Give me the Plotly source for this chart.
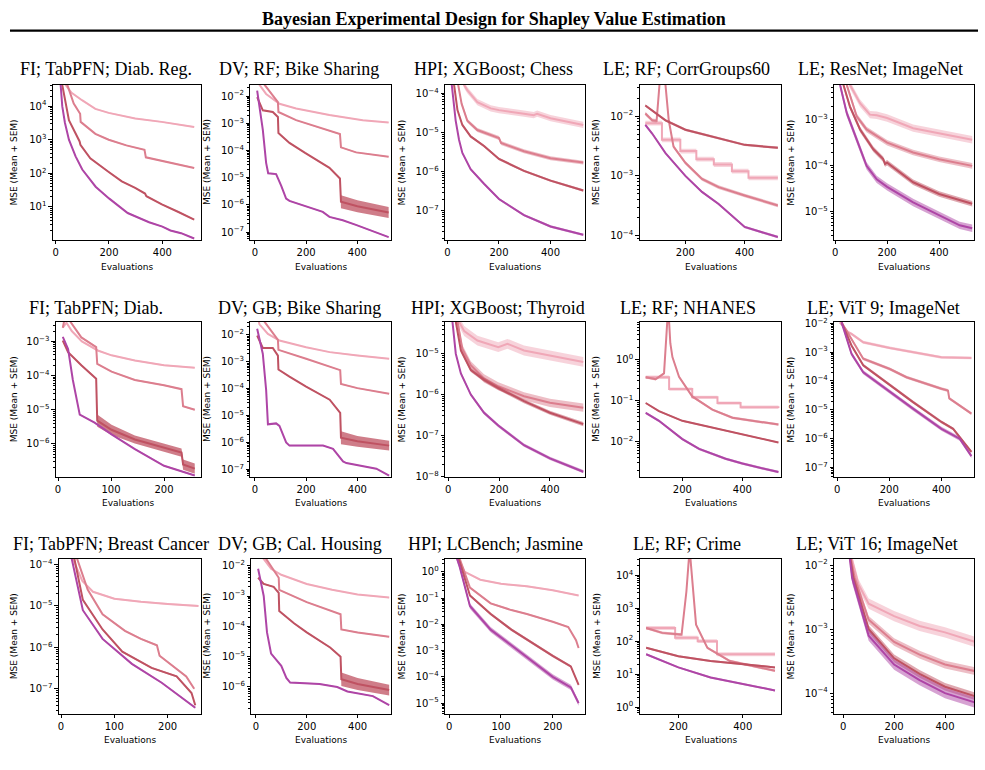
import math
import plotly.graph_objects as go

W, H = 985, 770
COLORS = ["#F0A7B7", "#DC7E8E", "#BF5262", "#AE45A6"]
BAND_RGB = ["240,167,183", "220,126,142", "191,82,98", "174,69,166"]

# ---------------- Row 1 ----------------
# FI; TabPFN; Diab. Reg.
r1c1_x0 = [15, 37, 60, 99, 149, 199, 298, 397, 519]
r1c1_y0 = [1e5, 4.3e4, 2.5e4, 1.5e4, 8.3e3, 6.3e3, 4.3e3, 3.4e3, 2.4e3]
r1c1_x1 = [15, 43, 68, 92, 94, 149, 199, 265, 333, 338, 397, 519]
r1c1_y1 = [2e5, 4.3e4, 1.2e4, 5.9e3, 3.4e3, 1.5e3, 1.0e3, 6.8e2, 5.0e2, 3.0e2, 2.4e2, 1.45e2]
r1c1_x2 = [15, 25, 50, 75, 90, 93, 130, 199, 248, 298, 335, 340, 398, 460, 519]
r1c1_y2 = [1.6e5, 4.3e4, 3.8e3, 1.6e3, 8.9e2, 7.1e2, 2.8e2, 1.1e2, 58, 37, 25, 21, 12, 7.1, 4.2]
r1c1_x3 = [15, 19, 25, 35, 50, 75, 100, 150, 200, 250, 270, 300, 350, 400, 430, 470, 519]
r1c1_y3 = [3.2e5, 4.3e4, 1.0e4, 3.2e3, 1.0e3, 3.2e2, 1.3e2, 40, 18, 8.9, 6.6, 5.2, 3.5, 2.6, 2.0, 1.66, 1.15]
r1c1_sem = [0.02, 0.02, 0.02, 0.02]

# DV; RF; Bike Sharing
r1c2_x0 = [10, 18, 44, 96, 161, 291, 421, 522]
r1c2_y0 = [5e-2, 2.6e-2, 1.2e-2, 5.2e-3, 3.5e-3, 2.0e-3, 1.3e-3, 1.07e-3]
r1c2_x1 = [10, 38, 90, 92, 161, 265, 332, 336, 395, 522]
r1c2_y1 = [6.3e-2, 2.6e-2, 6.0e-3, 2.6e-3, 1.3e-3, 6.6e-4, 4.0e-4, 1.3e-4, 8.5e-5, 5.9e-5]
r1c2_x2 = [9, 31, 70, 90, 92, 135, 196, 291, 332, 336, 400, 522]
r1c2_y2 = [9.1e-3, 3.0e-3, 2.6e-3, 1.7e-3, 4.4e-4, 1.9e-4, 8.1e-5, 2.3e-5, 9.3e-6, 1.3e-6, 8.9e-7, 5.2e-7]
r1c2_x3 = [9, 31, 44, 52, 70, 83, 103, 122, 135, 196, 265, 291, 343, 397, 522]
r1c2_y3 = [1.6e-2, 5.8e-4, 3.5e-5, 1.45e-5, 1.4e-5, 1.35e-5, 5.0e-6, 1.7e-6, 1.4e-6, 8.9e-7, 5.5e-7, 3.6e-7, 2.7e-7, 1.8e-7, 6.5e-8]
r1c2_sem2 = [0.02, 0.02, 0.02, 0.02, 0.02, 0.02, 0.02, 0.02, 0.02, 0.24, 0.22, 0.2]
r1c2_sem = [0.02, 0.02, r1c2_sem2, 0.02]

# HPI; XGBoost; Chess
r1c3_x0 = [20, 65, 77, 116, 168, 200, 297, 335, 348, 400, 527]
r1c3_y0 = [1e-3, 1.6e-4, 1.2e-4, 5.9e-5, 4.1e-5, 3.7e-5, 3.0e-5, 2.75e-5, 3.0e-5, 2.3e-5, 1.55e-5]
r1c3_x1 = [20, 43, 55, 77, 116, 200, 208, 297, 400, 527]
r1c3_y1 = [1e-3, 1.6e-4, 5.4e-5, 2.0e-5, 1.15e-5, 7.2e-6, 5.4e-6, 3.3e-6, 2.2e-6, 1.7e-6]
r1c3_x2 = [18, 26, 39, 58, 90, 142, 200, 297, 400, 527]
r1c3_y2 = [6.3e-4, 1.6e-4, 3.7e-5, 1.55e-5, 7.9e-6, 4.5e-6, 2.1e-6, 1.05e-6, 5.9e-7, 3.3e-7]
r1c3_x3 = [15, 17, 32, 45, 58, 90, 142, 200, 297, 400, 527]
r1c3_y3 = [3.2e-4, 1.6e-4, 2.0e-5, 6.5e-6, 3.0e-6, 1.15e-6, 4.9e-7, 2.0e-7, 7.8e-8, 4.0e-8, 2.45e-8]
r1c3_sem = [0.08, 0.05, 0.03, 0.03]

# LE; RF; CorrGroups60
r1c4_x0 = [65, 121, 183, 237, 296, 357, 413, 512]
r1c4_y0 = [7.6e-3, 4.0e-3, 2.6e-3, 1.9e-3, 1.55e-3, 1.2e-3, 9.3e-4, 9.3e-4]
r1c4_x1 = [65, 88, 103, 113, 122, 133, 144, 160, 200, 256, 312, 400, 512]
r1c4_y1 = [1.1e-2, 8.5e-3, 8.3e-3, 3.3e-2, 1.26e-1, 3.3e-2, 8.5e-3, 3.1e-3, 1.66e-3, 8.9e-4, 6.5e-4, 4.7e-4, 3.2e-4]
r1c4_x2 = [65, 133, 200, 312, 400, 512]
r1c4_y2 = [1.5e-2, 8.5e-3, 5.9e-3, 4.2e-3, 3.3e-3, 2.95e-3]
r1c4_x3 = [65, 88, 133, 200, 256, 312, 400, 512]
r1c4_y3 = [7.1e-3, 5.1e-3, 2.4e-3, 1.0e-3, 5.4e-4, 3.4e-4, 1.4e-4, 9.5e-5]
r1c4_sem = [0.04, 0.03, 0.02, 0.02]

# LE; ResNet; ImageNet
r1c5_x0 = [20, 57, 96, 134, 160, 200, 300, 400, 527]
r1c5_y0 = [1.6e-2, 5.8e-3, 2.3e-3, 1.3e-3, 1.26e-3, 1.1e-3, 6.6e-4, 5.1e-4, 3.7e-4]
r1c5_x1 = [20, 45, 83, 121, 200, 300, 400, 527]
r1c5_y1 = [1.6e-2, 5.8e-3, 1.2e-3, 6.2e-4, 3.2e-4, 1.95e-4, 1.4e-4, 1.0e-4]
r1c5_x2 = [20, 32, 57, 96, 147, 185, 192, 200, 300, 400, 527]
r1c5_y2 = [1.26e-2, 5.8e-3, 1.95e-3, 6.2e-4, 2.3e-4, 1.4e-4, 1.1e-4, 1.17e-4, 4.4e-5, 2.45e-5, 1.5e-5]
r1c5_x3 = [15, 19, 45, 83, 121, 160, 200, 300, 400, 479, 527]
r1c5_y3 = [1.26e-2, 5.8e-3, 1.4e-3, 3.7e-4, 1.0e-4, 5.1e-5, 3.5e-5, 1.6e-5, 8.5e-6, 5.1e-6, 4.4e-6]
r1c5_sem = [0.08, 0.06, 0.06, 0.08]

# ---------------- Row 2 ----------------
# FI; TabPFN; Diab.
r2c1_x0 = [9, 16, 26, 45, 75, 101, 145, 200, 258]
r2c1_y0 = [2.5e-3, 3.5e-3, 2.0e-3, 1.0e-3, 5.4e-4, 3.9e-4, 2.75e-4, 2.0e-4, 1.7e-4]
r2c1_x1 = [9, 13, 22, 44, 72, 74, 101, 145, 200, 233, 236, 258]
r2c1_y1 = [2.5e-3, 5.0e-3, 4.0e-3, 1.3e-3, 6.8e-4, 2.2e-4, 1.3e-4, 7.4e-5, 5.2e-5, 4.0e-5, 1.26e-5, 1.0e-5]
r2c1_x2 = [9, 19, 44, 72, 74, 101, 145, 200, 233, 236, 258]
r2c1_y2 = [1.05e-3, 4.8e-4, 2.0e-4, 8.1e-5, 4.8e-6, 2.6e-6, 1.35e-6, 7.9e-7, 5.6e-7, 2.5e-7, 1.9e-7]
r2c1_x3 = [9, 19, 28, 41, 69, 101, 145, 200, 258]
r2c1_y3 = [1.35e-3, 6.0e-4, 7.4e-5, 7.2e-6, 4.2e-6, 1.9e-6, 7.1e-7, 2.3e-7, 1.2e-7]
r2c1_sem2 = [0.02, 0.02, 0.02, 0.02, 0.18, 0.15, 0.12, 0.12, 0.12, 0.15, 0.15]
r2c1_sem = [0.02, 0.02, r2c1_sem2, 0.02]

# DV; GB; Bike Sharing
r2c2_x0 = [10, 18, 51, 96, 200, 292, 400, 524]
r2c2_y0 = [5e-2, 2.5e-2, 1.1e-2, 6.2e-3, 3.5e-3, 2.3e-3, 1.74e-3, 1.3e-3]
r2c2_x1 = [10, 38, 90, 92, 200, 333, 336, 400, 524]
r2c2_y1 = [6.3e-2, 3.1e-2, 6.6e-3, 2.8e-3, 1.3e-3, 4.9e-4, 1.5e-4, 1.05e-4, 6.5e-5]
r2c2_x2 = [9, 31, 70, 90, 92, 135, 200, 292, 333, 336, 400, 524]
r2c2_y2 = [9.5e-3, 3.3e-3, 3.3e-3, 1.7e-3, 5.2e-4, 2.8e-4, 1.2e-4, 3.9e-5, 1.26e-5, 1.5e-6, 1.1e-6, 7.6e-7]
r2c2_x3 = [9, 31, 44, 51, 83, 96, 122, 135, 266, 305, 344, 357, 474, 524]
r2c2_y3 = [1.7e-2, 2.0e-3, 9.1e-5, 4.7e-6, 5.1e-6, 4.1e-6, 1.0e-6, 7.6e-7, 7.6e-7, 5.8e-7, 1.95e-7, 1.7e-7, 1.05e-7, 5.8e-8]
r2c2_sem2 = [0.02, 0.02, 0.02, 0.02, 0.02, 0.02, 0.02, 0.02, 0.02, 0.24, 0.2, 0.18]
r2c2_sem = [0.02, 0.02, r2c2_sem2, 0.02]

# HPI; XGBoost; Thyroid
r2c3_x0 = [25, 43, 63, 115, 197, 233, 298, 400, 531]
r2c3_y0 = [1.6e-4, 6.0e-5, 3.6e-5, 2.1e-5, 1.45e-5, 1.75e-5, 1.2e-5, 9.1e-6, 6.3e-6]
r2c3_x1 = [20, 37, 56, 89, 141, 197, 298, 400, 531]
r2c3_y1 = [1.6e-4, 6.0e-5, 1.3e-5, 5.2e-6, 2.5e-6, 1.6e-6, 9.1e-7, 6.3e-7, 4.8e-7]
r2c3_x2 = [18, 30, 50, 89, 141, 197, 298, 400, 531]
r2c3_y2 = [1.6e-4, 6.0e-5, 1.2e-5, 4.0e-6, 2.3e-6, 1.45e-6, 6.9e-7, 3.6e-7, 1.9e-7]
r2c3_x3 = [15, 17, 30, 50, 89, 141, 197, 298, 400, 531]
r2c3_y3 = [1.6e-4, 6.0e-5, 1.0e-5, 3.3e-6, 1.0e-6, 3.6e-7, 1.75e-7, 5.8e-8, 2.75e-8, 1.3e-8]
r2c3_sem = [0.12, 0.1, 0.05, 0.04]

# LE; RF; NHANES
r2c4_x0 = [78, 156, 233, 317, 394, 520]
r2c4_y0 = [0.37, 0.19, 0.12, 0.087, 0.069, 0.066]
r2c4_x1 = [78, 111, 139, 145, 153, 160, 167, 189, 233, 300, 367, 520]
r2c4_y1 = [0.37, 0.33, 0.46, 1.6, 20, 2.5, 1.15, 0.38, 0.126, 0.06, 0.038, 0.026]
r2c4_x2 = [78, 122, 200, 300, 400, 520]
r2c4_y2 = [0.087, 0.055, 0.032, 0.022, 0.015, 0.0095]
r2c4_x3 = [78, 122, 200, 256, 344, 400, 520]
r2c4_y3 = [0.05, 0.032, 0.0115, 0.0066, 0.0038, 0.0029, 0.0018]
r2c4_sem = [0.04, 0.03, 0.02, 0.03]

# LE; ViT 9; ImageNet
r2c5_x0 = [10, 42, 55, 100, 202, 291, 400, 515]
r2c5_y0 = [1.07e-2, 4.9e-3, 4.3e-3, 2.2e-3, 1.4e-3, 1.0e-3, 6.6e-4, 6.3e-4]
r2c5_x1 = [17, 55, 100, 202, 266, 400, 425, 430, 515]
r2c5_y1 = [1.07e-2, 2.9e-3, 5.9e-4, 2.6e-4, 1.35e-4, 5.4e-5, 4.7e-5, 2.5e-5, 7.4e-6]
r2c5_x2 = [17, 55, 100, 202, 291, 400, 445, 515]
r2c5_y2 = [1.07e-2, 1.7e-3, 3.5e-4, 7.1e-5, 1.86e-5, 3.8e-6, 2.2e-6, 3.5e-7]
r2c5_x3 = [17, 55, 100, 202, 291, 400, 470, 515]
r2c5_y3 = [1.07e-2, 8.7e-4, 2.0e-4, 4.2e-5, 1.1e-5, 2.2e-6, 1.0e-6, 2.5e-7]
r2c5_sem = [0.05, 0.05, 0.05, 0.07]

# ---------------- Row 3 ----------------
# FI; TabPFN; Breast Cancer
r3c1_x0 = [15, 22, 40, 60, 100, 150, 200, 258]
r3c1_y0 = [3.2e-4, 1.4e-4, 4.0e-5, 2.2e-5, 1.5e-5, 1.26e-5, 1.12e-5, 1.0e-5]
r3c1_x1 = [15, 30, 50, 78, 120, 150, 180, 185, 235, 250]
r3c1_y1 = [3.2e-4, 1.4e-4, 2.5e-5, 6.3e-6, 2.5e-6, 1.6e-6, 1.12e-6, 6.3e-7, 2.0e-7, 1.0e-7]
r3c1_x2 = [15, 25, 41, 78, 115, 170, 217, 245, 252]
r3c1_y2 = [3.2e-4, 1.4e-4, 1.4e-5, 2.7e-6, 7.9e-7, 3.2e-7, 2.0e-7, 7.9e-8, 4.0e-8]
r3c1_x3 = [15, 20, 41, 78, 133, 189, 252]
r3c1_y3 = [3.2e-4, 1.4e-4, 7.9e-6, 1.6e-6, 4.0e-7, 1.4e-7, 3.5e-8]
r3c1_sem = [0.02, 0.02, 0.02, 0.02]

# DV; GB; Cal. Housing
r3c2_x0 = [10, 30, 60, 100, 200, 300, 400, 524]
r3c2_y0 = [3.2e-2, 1.7e-2, 7.9e-3, 5.0e-3, 2.5e-3, 1.6e-3, 1.12e-3, 8.9e-4]
r3c2_x1 = [10, 40, 90, 92, 200, 333, 336, 400, 524]
r3c2_y1 = [3.2e-2, 1.7e-2, 4.0e-3, 1.6e-3, 6.3e-4, 2.5e-4, 7.9e-5, 6.3e-5, 4.5e-5]
r3c2_x2 = [9, 31, 70, 90, 92, 150, 200, 292, 333, 336, 400, 524]
r3c2_y2 = [4.0e-3, 2.5e-3, 2.0e-3, 1.26e-3, 3.2e-4, 1.26e-4, 6.3e-5, 2.0e-5, 1.0e-5, 1.8e-6, 1.26e-6, 7.9e-7]
r3c2_x3 = [9, 31, 44, 60, 100, 120, 135, 250, 320, 360, 460, 524]
r3c2_y3 = [7.9e-3, 1.0e-3, 6.3e-5, 1.26e-5, 5.0e-6, 2.0e-6, 1.4e-6, 1.26e-6, 1.0e-6, 7.1e-7, 5.0e-7, 2.5e-7]
r3c2_sem2 = [0.02, 0.02, 0.02, 0.02, 0.02, 0.02, 0.02, 0.02, 0.02, 0.22, 0.2, 0.18]
r3c2_sem = [0.02, 0.02, r3c2_sem2, 0.02]

# HPI; LCBench; Jasmine
r3c3_x0 = [10, 30, 60, 100, 150, 200, 250]
r3c3_y0 = [6.3, 1.0, 0.5, 0.35, 0.28, 0.2, 0.126]
r3c3_x1 = [10, 20, 40, 80, 120, 150, 200, 230, 245, 250]
r3c3_y1 = [6.3, 3.2, 0.25, 0.063, 0.035, 0.025, 0.0126, 0.0079, 0.0025, 0.00126]
r3c3_x2 = [10, 20, 40, 80, 120, 160, 200, 235, 250]
r3c3_y2 = [6.3, 2.5, 0.126, 0.025, 0.0063, 0.002, 6.3e-4, 2.5e-4, 5.0e-5]
r3c3_x3 = [10, 20, 40, 80, 120, 160, 200, 235, 250]
r3c3_y3 = [6.3, 1.6, 0.05, 0.0063, 0.0016, 4.0e-4, 1.0e-4, 4.0e-5, 1.0e-5]
r3c3_sem = [0.03, 0.03, 0.05, 0.1]

# LE; RF; Crime
r3c4_x0 = [100, 190, 260, 320, 500]
r3c4_y0 = [250, 126, 100, 40, 40]
r3c4_x1 = [100, 150, 210, 225, 235, 245, 255, 290, 360, 500]
r3c4_y1 = [250, 178, 158, 3200, 63000, 3200, 316, 63, 25, 12.6]
r3c4_x2 = [100, 200, 300, 400, 500]
r3c4_y2 = [63, 35, 25, 20, 16]
r3c4_x3 = [100, 200, 300, 400, 500]
r3c4_y3 = [40, 16, 7.9, 5.0, 3.2]
r3c4_sem = [0.06, 0.04, 0.03, 0.03]

# LE; ViT 16; ImageNet
r3c5_x0 = [20, 60, 100, 200, 300, 400, 520]
r3c5_y0 = [2.0e-2, 5.0e-3, 2.5e-3, 1.6e-3, 1.12e-3, 8.9e-4, 6.3e-4]
r3c5_x1 = [20, 45, 100, 200, 300, 400, 520]
r3c5_y1 = [2.0e-2, 6.3e-3, 1.4e-3, 6.3e-4, 4.0e-4, 2.8e-4, 2.2e-4]
r3c5_x2 = [20, 40, 100, 200, 300, 400, 520]
r3c5_y2 = [2.0e-2, 6.3e-3, 1.0e-3, 3.5e-4, 2.0e-4, 1.26e-4, 8.9e-5]
r3c5_x3 = [20, 35, 100, 200, 300, 400, 520]
r3c5_y3 = [2.0e-2, 6.3e-3, 7.9e-4, 2.8e-4, 1.6e-4, 1.0e-4, 7.1e-5]
r3c5_sem = [0.08, 0.06, 0.06, 0.08]

TITLES = [
    "FI; TabPFN; Diab. Reg.", "DV; RF; Bike Sharing", "HPI; XGBoost; Chess",
    "LE; RF; CorrGroups60", "LE; ResNet; ImageNet",
    "FI; TabPFN; Diab.", "DV; GB; Bike Sharing", "HPI; XGBoost; Thyroid",
    "LE; RF; NHANES", "LE; ViT 9; ImageNet",
    "FI; TabPFN; Breast Cancer", "DV; GB; Cal. Housing", "HPI; LCBench; Jasmine",
    "LE; RF; Crime", "LE; ViT 16; ImageNet",
]

SERIES = [
    [(r1c1_x0, r1c1_y0), (r1c1_x1, r1c1_y1), (r1c1_x2, r1c1_y2), (r1c1_x3, r1c1_y3)],
    [(r1c2_x0, r1c2_y0), (r1c2_x1, r1c2_y1), (r1c2_x2, r1c2_y2), (r1c2_x3, r1c2_y3)],
    [(r1c3_x0, r1c3_y0), (r1c3_x1, r1c3_y1), (r1c3_x2, r1c3_y2), (r1c3_x3, r1c3_y3)],
    [(r1c4_x0, r1c4_y0), (r1c4_x1, r1c4_y1), (r1c4_x2, r1c4_y2), (r1c4_x3, r1c4_y3)],
    [(r1c5_x0, r1c5_y0), (r1c5_x1, r1c5_y1), (r1c5_x2, r1c5_y2), (r1c5_x3, r1c5_y3)],
    [(r2c1_x0, r2c1_y0), (r2c1_x1, r2c1_y1), (r2c1_x2, r2c1_y2), (r2c1_x3, r2c1_y3)],
    [(r2c2_x0, r2c2_y0), (r2c2_x1, r2c2_y1), (r2c2_x2, r2c2_y2), (r2c2_x3, r2c2_y3)],
    [(r2c3_x0, r2c3_y0), (r2c3_x1, r2c3_y1), (r2c3_x2, r2c3_y2), (r2c3_x3, r2c3_y3)],
    [(r2c4_x0, r2c4_y0), (r2c4_x1, r2c4_y1), (r2c4_x2, r2c4_y2), (r2c4_x3, r2c4_y3)],
    [(r2c5_x0, r2c5_y0), (r2c5_x1, r2c5_y1), (r2c5_x2, r2c5_y2), (r2c5_x3, r2c5_y3)],
    [(r3c1_x0, r3c1_y0), (r3c1_x1, r3c1_y1), (r3c1_x2, r3c1_y2), (r3c1_x3, r3c1_y3)],
    [(r3c2_x0, r3c2_y0), (r3c2_x1, r3c2_y1), (r3c2_x2, r3c2_y2), (r3c2_x3, r3c2_y3)],
    [(r3c3_x0, r3c3_y0), (r3c3_x1, r3c3_y1), (r3c3_x2, r3c3_y2), (r3c3_x3, r3c3_y3)],
    [(r3c4_x0, r3c4_y0), (r3c4_x1, r3c4_y1), (r3c4_x2, r3c4_y2), (r3c4_x3, r3c4_y3)],
    [(r3c5_x0, r3c5_y0), (r3c5_x1, r3c5_y1), (r3c5_x2, r3c5_y2), (r3c5_x3, r3c5_y3)],
]
SEMS = [r1c1_sem, r1c2_sem, r1c3_sem, r1c4_sem, r1c5_sem,
        r2c1_sem, r2c2_sem, r2c3_sem, r2c4_sem, r2c5_sem,
        r3c1_sem, r3c2_sem, r3c3_sem, r3c4_sem, r3c5_sem]
STEP_PANELS = {3, 8, 13}  # LE; RF panels: the palest series is a step curve

X_RANGES = [[-10, 543], [-17, 532], [-9, 533], [46, 524], [-3, 534],
            [-4, 269], [-17, 532], [-12, 537], [58, 530], [-11, 525],
            [-4, 262], [-17, 532], [-8, 262], [80, 520], [-35, 514]]
Y_RANGES = [[0.02, 4.63], [-7.29, -1.59], [-7.74, -3.79], [-4.07, -1.48], [-5.61, -2.24],
            [-6.96, -2.43], [-7.28, -1.51], [-8.01, -4.22], [-2.86, 0.92], [-7.32, -1.95],
            [-7.6, -3.86], [-6.88, -1.77], [-5.4, 0.5], [-0.2, 4.5], [-4.32, -1.9]]
X_TICKS = [[0, 200, 400], [0, 200, 400], [0, 200, 400], [200, 400], [0, 200, 400],
           [0, 100, 200], [0, 200, 400], [0, 200, 400], [200, 400], [0, 200, 400],
           [0, 100, 200], [0, 200, 400], [0, 100, 200], [200, 400], [0, 200, 400]]

ROW_TOP = [81, 321, 561]
ROW_BOT = [238, 478, 718]
COL_L = [[51, 249, 444, 639, 834], [54, 249, 444, 639, 834], [57, 250, 444, 639, 834]]
COL_R = [[199, 390, 584, 781, 974], [199, 390, 584, 781, 974], [199, 390, 584, 781, 974]]
TITLE_Y = [65, 307, 546]
TITLE_X = [[104, 298, 492, 686, 880], [94, 298, 497, 687, 883], [109, 299, 495, 686, 877]]
YLAB_X = [12, 206, 401, 596, 791]

TICK_FONT = dict(family="DejaVu Sans", size=10, color="black")

fig = go.Figure()
layout = dict(width=W, height=H, margin=dict(l=0, r=0, t=0, b=0),
              paper_bgcolor="white", plot_bgcolor="white", showlegend=False)
annotations = []


def sup(p):
    return "10<sup>" + ("\u2212" if p < 0 else "") + str(abs(p)) + "</sup>"


for idx in range(15):
    k = idx + 1
    r, c = divmod(idx, 5)
    xa = "x" if k == 1 else f"x{k}"
    ya = "y" if k == 1 else f"y{k}"
    xname = "xaxis" if k == 1 else f"xaxis{k}"
    yname = "yaxis" if k == 1 else f"yaxis{k}"
    l, rr = COL_L[r][c], COL_R[r][c]
    t, b = ROW_TOP[r], ROW_BOT[r]
    ylo, yhi = Y_RANGES[idx]
    majors = list(range(math.ceil(ylo - 1e-9), math.floor(yhi + 1e-9) + 1))
    minors = []
    for d in range(math.floor(ylo) - 1, math.ceil(yhi) + 1):
        for m in range(2, 10):
            v = m * 10.0 ** d
            if ylo <= math.log10(v) <= yhi:
                minors.append(v)
    layout[xname] = dict(
        domain=[l / W, rr / W], anchor=ya, range=X_RANGES[idx],
        showline=True, mirror=True, linecolor="black", linewidth=1,
        ticks="outside", ticklen=3.5, tickwidth=0.8, tickcolor="black",
        tickmode="array", tickvals=X_TICKS[idx], ticktext=[str(v) for v in X_TICKS[idx]],
        tickfont=TICK_FONT, showgrid=False, zeroline=False,
    )
    layout[yname] = dict(
        domain=[1 - b / H, 1 - t / H], anchor=xa, type="log", range=[ylo, yhi],
        showline=True, mirror=True, linecolor="black", linewidth=1,
        ticks="outside", ticklen=3.5, tickwidth=0.8, tickcolor="black",
        tickmode="array", tickvals=[10.0 ** p for p in majors], ticktext=[sup(p) for p in majors],
        tickfont=TICK_FONT, showgrid=False, zeroline=False,
        minor=dict(ticks="outside", ticklen=2, tickwidth=0.6, tickcolor="black",
                   tickmode="array", tickvals=minors, showgrid=False),
    )
    for si, (xs, ys) in enumerate(SERIES[idx]):
        sem = SEMS[idx][si]
        sems = sem if isinstance(sem, list) else [sem] * len(xs)
        shape = "hv" if (idx in STEP_PANELS and si == 0) else "linear"
        alpha = 0.75 if isinstance(sem, list) else 0.5
        up = [y * 10 ** s for y, s in zip(ys, sems)]
        lo = [y / 10 ** s for y, s in zip(ys, sems)]
        fig.add_trace(go.Scatter(x=xs, y=up, xaxis=xa, yaxis=ya, mode="lines",
                                 line=dict(width=0, shape=shape), hoverinfo="skip"))
        fig.add_trace(go.Scatter(x=xs, y=lo, xaxis=xa, yaxis=ya, mode="lines",
                                 line=dict(width=0, shape=shape), fill="tonexty",
                                 fillcolor=f"rgba({BAND_RGB[si]},{alpha})", hoverinfo="skip"))
        fig.add_trace(go.Scatter(x=xs, y=ys, xaxis=xa, yaxis=ya, mode="lines",
                                 line=dict(color=COLORS[si], width=2, shape=shape)))
    annotations.append(dict(text=TITLES[idx], x=TITLE_X[r][c] / W, y=1 - TITLE_Y[r] / H,
                            xref="paper", yref="paper", xanchor="center", yanchor="middle",
                            showarrow=False,
                            font=dict(family="Liberation Serif", size=18, color="black")))
    annotations.append(dict(text="Evaluations", x=(l + rr) / 2 / W, y=1 - (b + 27) / H,
                            xref="paper", yref="paper", xanchor="center", yanchor="middle",
                            showarrow=False, font=dict(family="DejaVu Sans", size=9, color="black")))
    annotations.append(dict(text="MSE (Mean + SEM)", x=YLAB_X[c] / W, y=1 - (t + b) / 2 / H,
                            xref="paper", yref="paper", xanchor="center", yanchor="middle",
                            textangle=-90, showarrow=False,
                            font=dict(family="DejaVu Sans", size=9, color="black")))

annotations.append(dict(text="<b>Bayesian Experimental Design for Shapley Value Estimation</b>",
                        x=492.5 / W, y=1 - 14 / H, xref="paper", yref="paper",
                        xanchor="center", yanchor="middle", showarrow=False,
                        font=dict(family="Liberation Serif", size=18, color="black")))
layout["annotations"] = annotations
layout["shapes"] = [dict(type="line", xref="paper", yref="paper", x0=8 / W, x1=978 / W,
                         y0=1 - 26 / H, y1=1 - 26 / H, line=dict(color="black", width=2.2))]
fig.update_layout(**layout)
fig.write_html("out.html")
